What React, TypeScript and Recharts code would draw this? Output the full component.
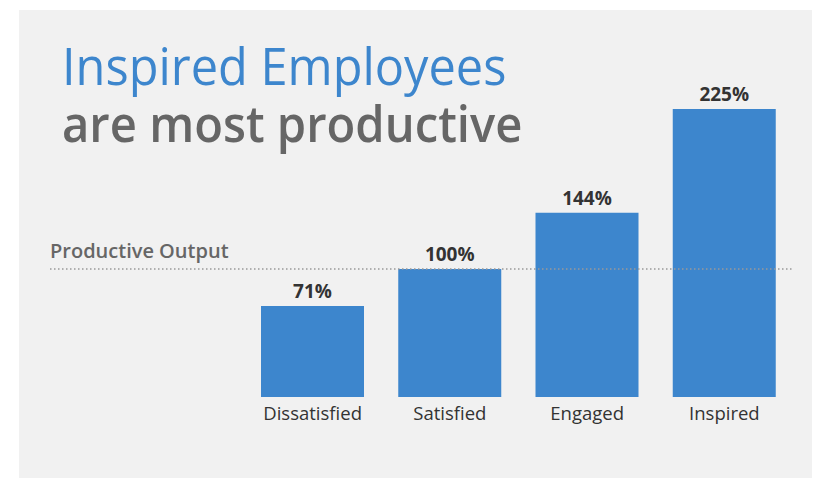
import { BarChart, Bar, XAxis, YAxis, ReferenceLine, LabelList } from 'recharts';

const categories = ['Dissatisfied', 'Satisfied', 'Engaged', 'Inspired'];
const output = [71, 100, 144, 225];
const baseline = 100;

const data = categories.map((name, i) => ({ name, value: output[i] }));

const FONT = '"Open Sans", "Noto Sans", sans-serif';

function BaselineLabel(props: any) {
  const { viewBox } = props;
  return (
    <text
      x={viewBox.x}
      y={viewBox.y - 11}
      fill="#666"
      fontSize={20}
      fontWeight={600}
      fontFamily={FONT}
    >
      Productive Output
    </text>
  );
}

const titleStyle = {
  position: 'absolute' as const,
  left: 62,
  fontSize: 51,
  lineHeight: '48px',
  whiteSpace: 'nowrap' as const,
  transformOrigin: 'left top',
};

export default function App() {
  return (
    <div style={{ position: 'absolute', left: 0, top: 0, width: 821, height: 478, background: '#fff', fontFamily: FONT }}>
      <div style={{ position: 'absolute', left: 19, top: 10, width: 793, height: 468, background: '#f1f1f1' }} />
      <div style={{ ...titleStyle, top: 41, color: '#3d86cd', transform: 'scaleX(0.955)' }}>Inspired Employees</div>
      <div style={{ ...titleStyle, top: 98, color: '#666', fontWeight: 600, transform: 'scaleX(0.925)' }}>
        are most productive
      </div>
      <div style={{ position: 'absolute', left: 0, top: 0 }}>
        <BarChart width={821} height={478} data={data} margin={{ top: 77, right: 28, bottom: 41, left: 50 }} barSize={103}>
          <XAxis
            dataKey="name"
            height={40}
            axisLine={false}
            tickLine={false}
            padding={{ left: 194, right: 0 }}
            tickMargin={4}
            tick={{ fontSize: 18.5, fill: '#333', fontFamily: FONT }}
          />
          <YAxis hide domain={[0, 250]} />
          <ReferenceLine
            y={baseline}
            stroke="#999"
            strokeWidth={1.5}
            strokeDasharray="1.5 2.5"
            label={<BaselineLabel />}
          />
          <Bar dataKey="value" fill="#3d86cd" isAnimationActive={false}>
            <LabelList
              dataKey="value"
              position="top"
              offset={8}
              formatter={(v: any) => `${v}%`}
              style={{ fontSize: 19, fontWeight: 700, fill: '#333', fontFamily: FONT }}
            />
          </Bar>
        </BarChart>
      </div>
    </div>
  );
}
